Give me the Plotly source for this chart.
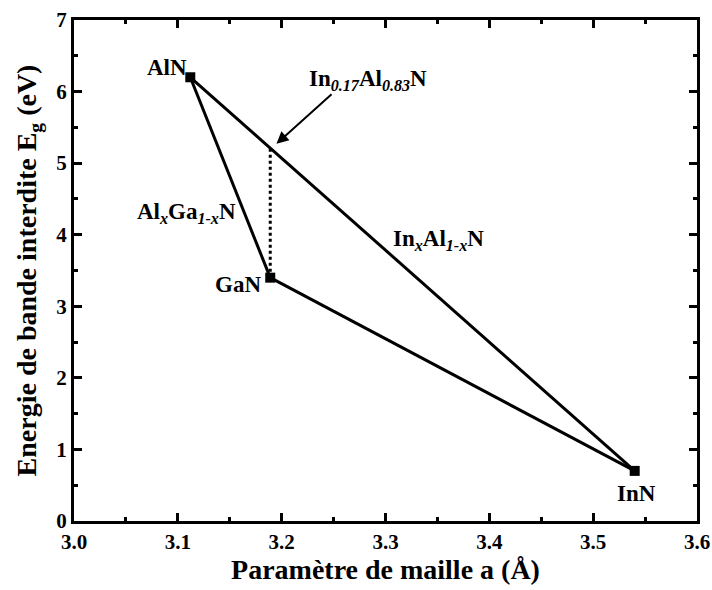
import plotly.graph_objects as go

compounds = ["AlN", "GaN", "InN"]
lattice_a = [3.112, 3.189, 3.54]
band_gap = [6.2, 3.4, 0.7]

# InAlN lattice matched to GaN
inaln_a = [3.189, 3.189]
inaln_eg = [3.4, 5.2]

FONT = "Liberation Serif"

fig = go.Figure()

def seg(i, j):
    fig.add_trace(go.Scatter(x=[lattice_a[i], lattice_a[j]], y=[band_gap[i], band_gap[j]],
                             mode="lines", line=dict(color="black", width=3),
                             showlegend=False, hoverinfo="skip"))

seg(0, 1)
seg(1, 2)
seg(0, 2)

fig.add_trace(go.Scatter(x=inaln_a, y=inaln_eg, mode="lines",
                         line=dict(color="black", width=3, dash="dot"),
                         showlegend=False, hoverinfo="skip"))

fig.add_trace(go.Scatter(x=lattice_a, y=band_gap, mode="markers",
                         marker=dict(symbol="square", size=10, color="black"),
                         showlegend=False))

lab_font = dict(family=FONT, size=23, color="black")

def txt(x, y, s):
    fig.add_annotation(x=x, y=y, text="<b>" + s + "</b>", showarrow=False, font=lab_font,
                       xanchor="center", yanchor="middle")

txt(3.0896, 6.34, "AlN")
txt(3.158, 3.31, "GaN")
txt(3.108, 4.30, "Al<sub><i>x</i></sub>Ga<sub><i>1-x</i></sub>N")
txt(3.3507, 3.93, "In<sub><i>x</i></sub>Al<sub><i>1-x</i></sub>N")
txt(3.5414, 0.39, "InN")
txt(3.2828, 6.16, "In<sub><i>0.17</i></sub>Al<sub><i>0.83</i></sub>N")

fig.add_annotation(x=3.195, y=5.27, ax=3.2495, ay=5.98, axref="x", ayref="y",
                   xref="x", yref="y", text="", showarrow=True,
                   arrowhead=2, arrowsize=1.2, arrowwidth=2, arrowcolor="black")

tickfont = dict(family=FONT, size=21, color="black")
axis_common = dict(showline=True, linecolor="black", linewidth=3, mirror="ticks",
                   ticks="inside", ticklen=8, tickwidth=3, tickcolor="black",
                   showgrid=False, zeroline=False, automargin=False,
                   tickfont=tickfont)

fig.update_xaxes(range=[3.0, 3.6], tickvals=[3.0, 3.1, 3.2, 3.3, 3.4, 3.5, 3.6],
                 ticktext=["<b>%.1f</b>" % v for v in [3.0, 3.1, 3.2, 3.3, 3.4, 3.5, 3.6]],
                 minor=dict(ticks="inside", dtick=0.05, ticklen=4, tickwidth=3, tickcolor="black"),
                 title=dict(text="<b>Paramètre de maille a (Å)</b>", standoff=5,
                            font=dict(family=FONT, size=28, color="black")),
                 **axis_common)
fig.update_yaxes(range=[0, 7], tickvals=list(range(8)),
                 ticktext=["<b>%d</b>" % v for v in range(8)],
                 minor=dict(ticks="inside", dtick=0.5, ticklen=4, tickwidth=3, tickcolor="black"),
                 title=dict(text="<b>Energie de bande interdite E<sub>g</sub> (eV)</b>", standoff=12,
                            font=dict(family=FONT, size=28, color="black")),
                 **axis_common)

fig.update_layout(width=712, height=590, plot_bgcolor="white", paper_bgcolor="white",
                  margin=dict(l=74, r=15, t=20, b=69))

fig.write_html("out.html", config={"displayModeBar": False},
               post_script="document.body.style.margin='0';document.body.style.padding='0';")
